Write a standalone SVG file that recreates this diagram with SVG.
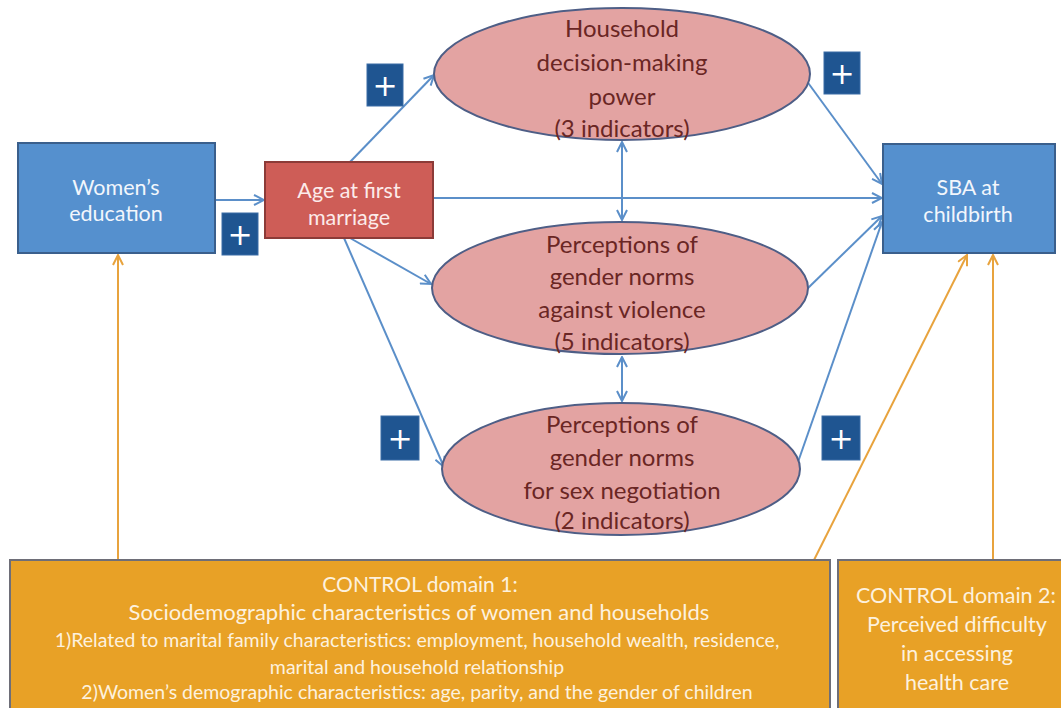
<svg xmlns="http://www.w3.org/2000/svg" width="1061" height="708" viewBox="0 0 1061 708">
<style>
.blue{fill:#5590CE;stroke:#3A5F8C;stroke-width:2}
.red{fill:#CE5D57;stroke:#8C3B38;stroke-width:2}
.ell{fill:#E3A3A2;stroke:#4E5E86;stroke-width:2}
.plus{fill:#1F5591;stroke:#3A6DA6;stroke-width:1}
.orange{fill:#E8A126;stroke:#6E6E78;stroke-width:2}
.wt{font-family:Lato,'Open Sans',sans-serif;font-size:21.5px;fill:#F2F6FC;text-anchor:middle}
.et{font-family:Lato,'Open Sans',sans-serif;font-size:24px;fill:#6A2624;text-anchor:middle}
.ot{font-family:Lato,'Open Sans',sans-serif;fill:#FDF1DE;text-anchor:middle}
.pt{font-family:'DejaVu Sans',sans-serif;font-size:30px;fill:#FFFFFF;text-anchor:middle}
.cb{fill:none;stroke:#5B8FC9;stroke-width:2}
.co{fill:none;stroke:#E8A33D;stroke-width:2}
</style>
<defs>
<marker id="ab" viewBox="0 0 12 12" refX="11" refY="6" markerWidth="12" markerHeight="12" markerUnits="userSpaceOnUse" orient="auto-start-reverse">
<path d="M1,1 L11,6 L1,11" fill="none" stroke="#5B8FC9" stroke-width="2"/>
</marker>
<marker id="ao" viewBox="0 0 12 12" refX="11" refY="6" markerWidth="12" markerHeight="12" markerUnits="userSpaceOnUse" orient="auto">
<path d="M1,1 L11,6 L1,11" fill="none" stroke="#E8A33D" stroke-width="2"/>
</marker>
</defs>
<rect width="1061" height="708" fill="#FFFFFF"/>
<g id="connectors">
<line class="cb" x1="215" y1="200" x2="264" y2="200" marker-end="url(#ab)"/>
<line class="cb" x1="350" y1="162" x2="434" y2="75" marker-end="url(#ab)"/>
<line class="cb" x1="433" y1="198" x2="882" y2="198" marker-end="url(#ab)"/>
<line class="cb" x1="350" y1="238" x2="431" y2="284" marker-end="url(#ab)"/>
<line class="cb" x1="344" y1="238" x2="444" y2="467" marker-end="url(#ab)"/>
<line class="cb" x1="806" y1="80" x2="882" y2="184" marker-end="url(#ab)"/>
<line class="cb" x1="806" y1="290" x2="882" y2="216" marker-end="url(#ab)"/>
<line class="cb" x1="798" y1="462" x2="882" y2="222" marker-end="url(#ab)"/>
<line class="cb" x1="622" y1="142" x2="622" y2="220" marker-start="url(#ab)" marker-end="url(#ab)"/>
<line class="cb" x1="622" y1="357" x2="622" y2="401" marker-start="url(#ab)" marker-end="url(#ab)"/>
<line class="co" x1="118" y1="560" x2="118" y2="255" marker-end="url(#ao)"/>
<line class="co" x1="814" y1="560" x2="967" y2="255" marker-end="url(#ao)"/>
<line class="co" x1="993" y1="560" x2="993" y2="255" marker-end="url(#ao)"/>
</g>
<g id="womens-education">
<rect class="blue" x="18" y="143" width="197" height="110"/>
<text class="wt" x="116" y="195">Women’s</text>
<text class="wt" x="116" y="221">education</text>
</g>
<g id="age-first-marriage">
<rect class="red" x="265" y="162" width="168" height="76"/>
<text class="wt" x="349" y="198" style="fill:#FCEBEA">Age at first</text>
<text class="wt" x="349" y="225" style="fill:#FCEBEA">marriage</text>
</g>
<g id="household-decision">
<ellipse class="ell" cx="622" cy="74" rx="188" ry="66"/>
<text class="et" x="622" y="37">Household</text>
<text class="et" x="622" y="71">decision-making</text>
<text class="et" x="622" y="105">power</text>
<text class="et" x="622" y="137">(3 indicators)</text>
</g>
<g id="norms-violence">
<ellipse class="ell" cx="620" cy="288" rx="188" ry="66"/>
<text class="et" x="622" y="253">Perceptions of</text>
<text class="et" x="622" y="285">gender norms</text>
<text class="et" x="622" y="318">against violence</text>
<text class="et" x="622" y="350">(5 indicators)</text>
</g>
<g id="norms-sex">
<ellipse class="ell" cx="621" cy="469" rx="179" ry="66"/>
<text class="et" x="622" y="433">Perceptions of</text>
<text class="et" x="622" y="466">gender norms</text>
<text class="et" x="622" y="499">for sex negotiation</text>
<text class="et" x="622" y="529">(2 indicators)</text>
</g>
<g id="sba">
<rect class="blue" x="883" y="144" width="172" height="109"/>
<text class="wt" x="968" y="195">SBA at</text>
<text class="wt" x="968" y="222">childbirth</text>
</g>
<g id="plus-1">
<rect class="plus" x="222" y="213" width="36" height="42"/>
<text class="pt" x="240" y="245">+</text>
</g>
<g id="plus-2">
<rect class="plus" x="367" y="64" width="36" height="42"/>
<text class="pt" x="385" y="96">+</text>
</g>
<g id="plus-3">
<rect class="plus" x="824" y="52" width="36" height="42"/>
<text class="pt" x="842" y="84">+</text>
</g>
<g id="plus-4">
<rect class="plus" x="381" y="416" width="38" height="44"/>
<text class="pt" x="400" y="449">+</text>
</g>
<g id="plus-5">
<rect class="plus" x="822" y="416" width="38" height="44"/>
<text class="pt" x="841" y="449">+</text>
</g>
<g id="control-1">
<rect class="orange" x="10" y="560" width="820" height="155"/>
<text class="ot" x="420" y="592" font-size="21">CONTROL domain 1:</text>
<text class="ot" x="419" y="620" font-size="22">Sociodemographic characteristics of women and households</text>
<text class="ot" x="417" y="647" font-size="19.5">1)Related to marital family characteristics: employment, household wealth, residence,</text>
<text class="ot" x="417" y="674" font-size="19.5">marital and household relationship</text>
<text class="ot" x="417" y="699" font-size="19.5">2)Women’s demographic characteristics: age, parity, and the gender of children</text>
</g>
<g id="control-2">
<rect class="orange" x="838" y="560" width="230" height="155"/>
<text class="ot" x="956" y="603" font-size="21.5">CONTROL domain 2:</text>
<text class="ot" x="957" y="632" font-size="21.5">Perceived difficulty</text>
<text class="ot" x="957" y="661" font-size="21.5">in accessing</text>
<text class="ot" x="957" y="690" font-size="21.5">health care</text>
</g>
</svg>
